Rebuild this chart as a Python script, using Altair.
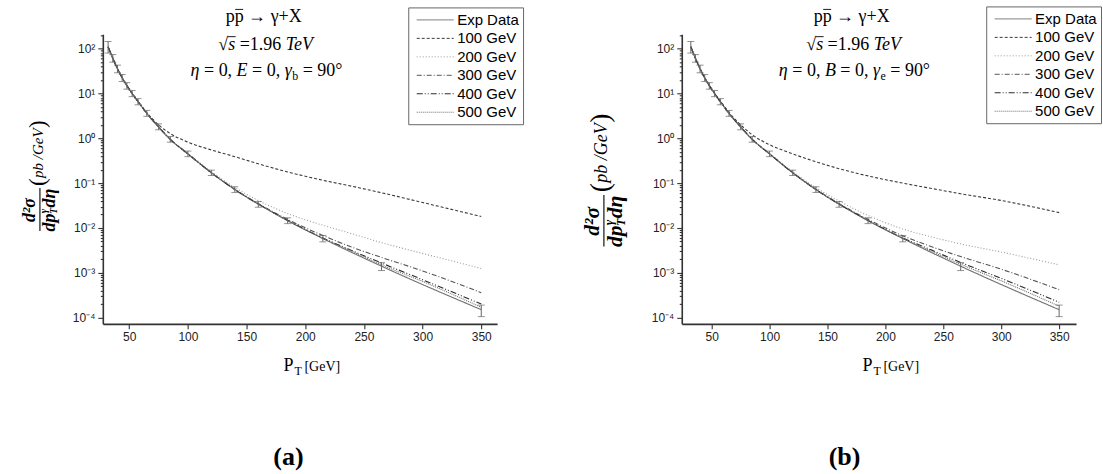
import altair as alt
import pandas as pd

SERIF = "Liberation Serif"
SANS = "Liberation Sans"

# ---------------- data ----------------
SERIES = ["Exp Data", "100 GeV", "200 GeV", "300 GeV", "400 GeV", "500 GeV"]
COLORS = ["#707070", "#3a3a3a", "#9a9a9a", "#555555", "#2a2a2a", "#6e6e6e"]
DASHES = [[1, 0], [3, 2], [1, 2], [5, 2, 1, 2], [6, 2, 1, 2, 1, 2], [1, 1]]

pt_data = [32, 36, 40, 44, 48, 52.5, 57.5, 65, 75, 85, 100, 120, 140, 160, 185, 215, 265, 350]
exp_val = [110, 62, 36, 22.5, 15, 10, 6.6, 3.6, 1.8, 0.95, 0.45, 0.17, 0.072, 0.034, 0.0145, 0.0058, 0.0014, 0.00015]
exp_lo = [80, 50, 29, 18.5, 12.5, 8.5, 5.6, 3.1, 1.55, 0.82, 0.39, 0.148, 0.062, 0.029, 0.0125, 0.0049, 0.00112, 0.000105]
exp_hi = [145, 74, 43, 26.5, 17.5, 11.7, 7.7, 4.2, 2.1, 1.1, 0.52, 0.195, 0.083, 0.039, 0.0168, 0.0068, 0.00168, 0.00019]

pt_model = [32, 36, 40, 44, 48, 52.5, 57.5, 65, 75, 85, 100, 120, 140, 160, 185, 215, 240, 265, 300, 350]

# panel (a): E = 0
a_100 = [112, 61, 36, 22.5, 15.2, 10.2, 6.8, 3.75, 2.0, 1.28, 0.82, 0.55, 0.39, 0.27, 0.178, 0.116, 0.085, 0.061, 0.037, 0.018]
a_200 = [110, 61, 35.5, 22.5, 15, 10, 6.6, 3.6, 1.8, 0.95, 0.46, 0.18, 0.08, 0.041, 0.021, 0.0115, 0.0074, 0.0047, 0.0027, 0.00125]
a_300 = [110, 61, 35.5, 22.5, 15, 10, 6.6, 3.6, 1.8, 0.95, 0.45, 0.172, 0.073, 0.035, 0.0155, 0.0068, 0.0037, 0.0022, 0.0011, 0.00036]
a_400 = [110, 61, 35.5, 22.5, 15, 10, 6.6, 3.6, 1.8, 0.95, 0.45, 0.17, 0.072, 0.034, 0.0148, 0.006, 0.0031, 0.00165, 0.0007, 0.0002]
a_500 = [110, 61, 35.5, 22.5, 15, 10, 6.6, 3.6, 1.8, 0.95, 0.45, 0.17, 0.072, 0.034, 0.0146, 0.0059, 0.003, 0.0015, 0.00064, 0.00017]

# panel (b): B = 0
b_100 = [112, 61, 36, 22.5, 15.2, 10.2, 6.8, 3.8, 2.0, 1.2, 0.72, 0.45, 0.3, 0.21, 0.145, 0.1, 0.076, 0.058, 0.041, 0.022]
b_200 = [110, 61, 35.5, 22.5, 15, 10, 6.6, 3.6, 1.8, 0.95, 0.46, 0.18, 0.079, 0.04, 0.019, 0.0095, 0.0063, 0.0044, 0.0029, 0.0015]
b_300 = [110, 61, 35.5, 22.5, 15, 10, 6.6, 3.6, 1.8, 0.95, 0.45, 0.172, 0.073, 0.035, 0.0155, 0.0067, 0.0038, 0.0023, 0.0012, 0.00042]
b_400 = [110, 61, 35.5, 22.5, 15, 10, 6.6, 3.6, 1.8, 0.95, 0.45, 0.17, 0.072, 0.034, 0.0148, 0.006, 0.0032, 0.0017, 0.00075, 0.00022]
b_500 = [110, 61, 35.5, 22.5, 15, 10, 6.6, 3.6, 1.8, 0.95, 0.45, 0.17, 0.072, 0.034, 0.0146, 0.0059, 0.003, 0.00155, 0.00066, 0.00018]

x_major = [50, 100, 150, 200, 250, 300, 350]
x_minor = [75, 125, 175, 225, 275, 325]
y_decades = [-4, -3, -2, -1, 0, 1, 2]

# ---------------- helpers ----------------
W, H = 395, 290
YDOM = [10 ** -4.14, 10 ** 2.32]

dummy = pd.DataFrame({"k": [0]})

EM = {" ": 0.25, "=": 0.564, "+": 0.564, ",": 0.25, ".": 0.25, "°": 0.4, "→": 1.0,
      "√": 0.549, "X": 0.722, "p": 0.5, "γ": 0.42, "η": 0.5, "E": 0.611, "B": 0.611,
      "s": 0.389, "T": 0.556, "e": 0.444, "V": 0.611, "b": 0.5}


def wid(s, size):
    return sum(EM.get(c, 0.5) for c in s) * size


def T(s, x, y, size, style="normal", weight="normal", align="left",
      baseline="alphabetic", angle=0, font=SERIF):
    kw = dict(text=s, font=font, fontSize=size, fontStyle=style, fontWeight=weight,
              align=align, baseline=baseline, color="black")
    if angle:
        kw["angle"] = angle
    return alt.Chart(dummy).mark_text(**kw).encode(x=alt.value(x), y=alt.value(y))


def R(x1, y1, x2=None, y2=None, w=1.0, color="black", opacity=1.0):
    enc = dict(x=alt.value(x1), y=alt.value(y1))
    if x2 is not None:
        enc["x2"] = alt.value(x2)
    if y2 is not None:
        enc["y2"] = alt.value(y2)
    return alt.Chart(dummy).mark_rule(color=color, strokeWidth=w,
                                      strokeOpacity=opacity).encode(**enc)


def rich(pieces, cx, base):
    total = sum(wid(t, sz) for t, sz, st, dy in pieces)
    x = cx - total / 2
    layers, starts = [], []
    for t, sz, st, dy in pieces:
        lead = len(t) - len(t.lstrip(" "))
        xs = x + lead * 0.25 * sz
        starts.append(xs)
        if t.strip():
            layers.append(T(t.strip(), xs, base + dy, sz, st))
        x += wid(t, sz)
    return layers, starts


def header(cx, letter, sub):
    out = []
    l1, s1 = rich([("p", 18, "normal", 0), ("p", 18, "normal", 0),
                   (" → γ+X", 18, "normal", 0)], cx - 3, -12)
    out += l1 + [R(s1[1] + 0.5, -25, s1[1] + 8.5, None, 0.9)]
    l2, s2 = rich([("√", 18, "normal", 0), ("s", 18, "italic", 0),
                   (" =1.96 ", 18, "normal", 0), ("TeV", 18, "italic", 0)], cx, 16)
    out += l2 + [R(s2[1] - 0.5, 2.3, s2[1] + 7.5, None, 0.9)]
    l3, _ = rich([("η", 18, "italic", 0), (" = 0, ", 18, "normal", 0),
                  (letter, 18, "italic", 0), (" = 0, ", 18, "normal", 0),
                  ("γ", 18, "italic", 0), (sub, 12, "normal", 4),
                  (" = 90°", 18, "normal", 0)], cx, 42)
    out += l3
    return out


def ytitle(bx, cy, k):
    out = []

    def P(s, u, v, size, style="italic", weight="bold"):
        out.append(T(s, bx + v * k, cy - u * k, size * k, style, weight,
                     align="center", baseline="middle", angle=270))

    P("d²σ", -26, -9.5, 18)
    P("dp", -38.5, 10, 18)
    P("γ", -27, 4.5, 11)
    P("T", -27, 14.5, 10)
    P("dη", -14, 10, 18)
    P("(", 2, -2, 23, "normal", "normal")
    P("pb /GeV", 31, -2, 15, "italic", "normal")
    P(")", 60, -2, 23, "normal", "normal")
    out.append(R(bx, cy + 47 * k, None, cy + 4 * k, 1.1))
    return out


def xtitle():
    return [T("P", 181, 337, 18), T("T", 192, 341, 12), T("[GeV]", 202, 337, 14)]


DEC = "abs(log(datum.value)/LN10 - round(log(datum.value)/LN10)) < 0.01"
YLBL = ("(" + DEC + ") ? '10' + (datum.value < 0.5 ? '⁻' : '') + "
        "['⁰','¹','²','³','⁴'][abs(round(log(datum.value)/LN10))] : ''")

y_vals = []
for e in y_decades:
    for m in range(1, 10):
        v = m * 10.0 ** e
        if v <= YDOM[1]:
            y_vals.append(v)

COMMON = dict(title=None, grid=False, tickSize=5,
              domainColor="#333333", domainWidth=1.6, tickColor="#333333", tickWidth=1.1,
              labelFont=SANS, labelFontSize=12, labelColor="#222222", labelPadding=3,
              labelOverlap=False, labelFlush=False)

XAXIS = alt.Axis(values=sorted(x_major + x_minor),
                 labelExpr="datum.value % 50 == 0 ? datum.label : ''",
                 tickDash={"condition": {"test": "datum.value % 50 == 0", "value": [6, 0]},
                           "value": [3, 10]}, **COMMON)
YAXIS = alt.Axis(values=y_vals, labelExpr=YLBL,
                 tickDash={"condition": {"test": DEC, "value": [6, 0]}, "value": [2.5, 10]},
                 **COMMON)


def make_legend(lx, ly):
    return alt.Legend(orient="none", legendX=lx, legendY=ly, title=None, direction="vertical",
                      strokeColor="#666666", fillColor="white", padding=4,
                      labelFont=SANS, labelFontSize=15, labelColor="black",
                      symbolType="M-0.5,0L4.125,0", symbolSize=256, symbolStrokeWidth=1,
                      labelOffset=28, rowPadding=1.5)


def lines_df(models):
    rows = [{"pt": x, "val": v, "series": "Exp Data"} for x, v in zip(pt_data, exp_val)]
    for name, vals in zip(SERIES[1:], models):
        rows += [{"pt": x, "val": v, "series": name} for x, v in zip(pt_model, vals)]
    return pd.DataFrame(rows)


err_df = pd.DataFrame({"pt": pt_data, "val": exp_lo, "val2": exp_hi})
cap_df = pd.DataFrame({"pt": pt_data + pt_data, "val": exp_lo + exp_hi})


def panel(models, xdom, leg_xy, cx, letter, sub, ytl, label, label_x, frame):
    xs = alt.Scale(domain=xdom, nice=False, zero=False)
    ys = alt.Scale(type="log", domain=YDOM, nice=False)
    leg = make_legend(*leg_xy)
    lines = alt.Chart(lines_df(models)).mark_line(strokeWidth=1.1, interpolate="monotone").encode(
        x=alt.X("pt:Q", scale=xs, axis=XAXIS),
        y=alt.Y("val:Q", scale=ys, axis=YAXIS),
        color=alt.Color("series:N", scale=alt.Scale(domain=SERIES, range=COLORS), legend=leg),
        strokeDash=alt.StrokeDash("series:N", scale=alt.Scale(domain=SERIES, range=DASHES), legend=leg),
    )
    err = alt.Chart(err_df).mark_rule(color="#666666", strokeWidth=1).encode(
        x=alt.X("pt:Q", scale=xs), y=alt.Y("val:Q", scale=ys), y2="val2:Q")
    caps = alt.Chart(cap_df).mark_tick(orient="horizontal", size=7, thickness=1, color="#666666").encode(
        x=alt.X("pt:Q", scale=xs), y=alt.Y("val:Q", scale=ys))
    layers = [lines, err, caps]
    layers += header(cx, letter, sub)
    layers += ytitle(*ytl)
    layers += xtitle()
    layers.append(T(label, label_x, 423, 26, "normal", "bold", align="center", baseline="middle"))
    layers.append(R(frame, -33, None, 441, 1, "white", 0))
    return alt.layer(*layers).properties(width=W, height=H)


left = panel([a_100, a_200, a_300, a_400, a_500], [27.5, 363.5], (306, -27), 164, "E", "b",
             (-63, 150, 1.0), "(a)", 186, -102)
right = panel([b_100, b_200, b_300, b_400, b_500], [24.2, 364.6], (305, -28), 173, "B", "e",
              (-78, 156, 1.2), "(b)", 163, 421)

chart = alt.hconcat(left, right, spacing=185, bounds="flush").resolve_scale(
    color="independent", strokeDash="independent"
).properties(
    padding=0, background="white"
).configure_view(stroke="transparent")

chart.save("out.html", embed_options={"renderer": "svg", "actions": False})
